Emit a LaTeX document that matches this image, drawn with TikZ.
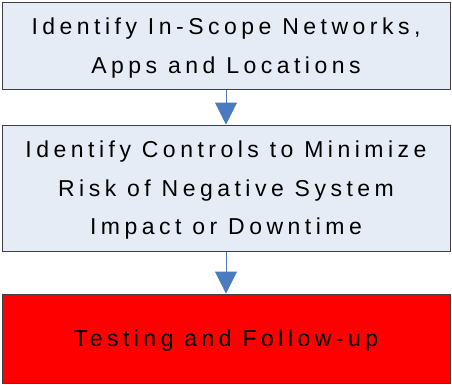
\documentclass[tikz,border=0pt]{standalone}
\usepackage{fontspec}
\newfontfamily\stepfont[LetterSpace=19.5]{Liberation Sans}
\usetikzlibrary{arrows.meta}
\definecolor{boxblue}{RGB}{230,236,246}
\definecolor{arrowblue}{RGB}{74,122,192}
\definecolor{edgegray}{RGB}{64,64,64}
\tikzset{
  stepbox/.style={draw=edgegray, line width=1pt, fill=boxblue, minimum width=448pt,
    align=center, font=\stepfont\fontsize{23}{38.5}\selectfont, inner sep=0pt,
    text depth=0pt},
  flow/.style={arrowblue, line width=1pt, -{Triangle[length=22pt,width=22pt]}}
}
\begin{document}
\begin{tikzpicture}[x=1pt,y=-1pt]
\useasboundingbox (0,0) rectangle (452,384);
\node[stepbox, minimum height=87pt] (scope) at (226,45.5) {Identify In-Scope Networks,\\Apps and Locations};
\node[stepbox, minimum height=126pt] (controls) at (226,188) {Identify Controls to Minimize\\Risk of Negative System\\Impact or Downtime};
\node[stepbox, fill=red, minimum height=89pt] (testing) at (226,338.5) {Testing and Follow-up};
\draw[flow] (scope) -- (controls);
\draw[flow] (controls) -- (testing);
\end{tikzpicture}
\end{document}
